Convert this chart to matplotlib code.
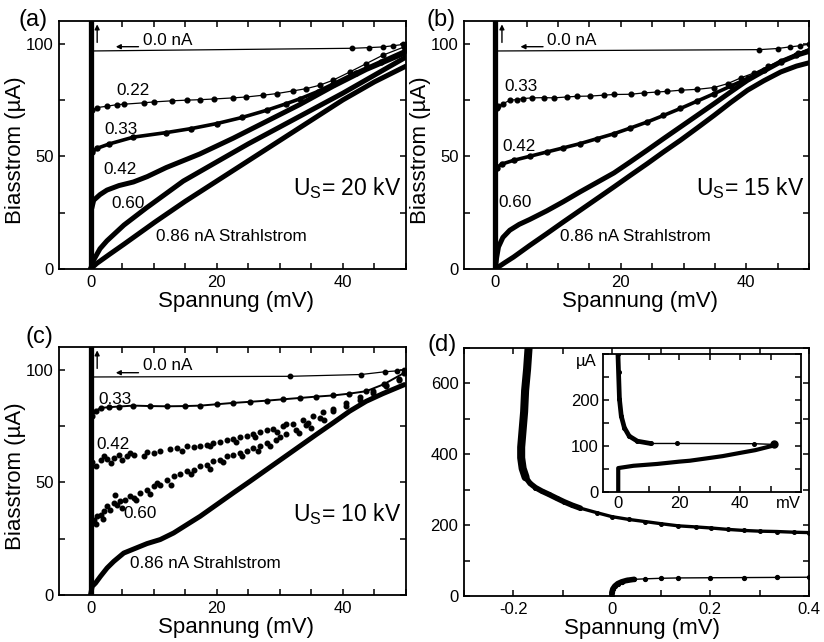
import numpy as np
import matplotlib
matplotlib.use("Agg")
import matplotlib.pyplot as plt
from matplotlib.transforms import blended_transform_factory

plt.rcParams["font.family"] = ["Liberation Sans", "DejaVu Sans"]
plt.rcParams["mathtext.fontset"] = "custom"
plt.rcParams["mathtext.rm"] = "Liberation Sans"
plt.rcParams["mathtext.it"] = "Liberation Sans:italic"

# ---------------------------------------------------------------- data
# superconducting branch at V = 0 (mV, uA)
sc_v = [0, 0]
sc_i = [0, 110]

# (a) U_S = 20 kV
a_00_v = [0, 41.5, 44.2, 46.3, 47.9, 49.5, 50.0]
a_00_i = [96.7, 97.9, 98.2, 98.5, 99.0, 99.6, 99.8]
a_022_v = [0.3, 1.05, 2.6, 4.2, 5.3, 8.4, 10.0, 12.9, 15.3, 17.4, 19.5, 22.6, 24.7,
           27.4, 29.5, 32.1, 34.2, 36.3, 38.4, 41.1, 43.7, 46.3, 49.7]
a_022_i = [70.5, 71.6, 72.2, 72.9, 73.1, 73.7, 74.1, 74.6, 74.9, 75.1, 75.4, 75.9, 76.3,
           77.1, 77.8, 79.0, 80.0, 81.5, 83.7, 87.4, 91.1, 94.8, 98.5]
a_033_v = [0.3, 1.0, 3.0, 6.8, 12.0, 16.0, 20.0, 24.0, 27.9, 31.0, 33.2, 36.0, 38.4, 42.0, 46.0, 50.0]
a_033_i = [52.0, 53.5, 55.5, 58.5, 60.5, 62.3, 64.5, 67.2, 70.4, 73.3, 75.5, 78.7, 82.0, 87.0, 92.0, 97.0]
a_042_v = [0.2, 0.5, 1.5, 2.6, 4.5, 6.8, 9.0, 12.0, 17.3, 22.6, 27.9, 33.2, 38.4, 43.7, 50.0]
a_042_i = [27.0, 30.5, 33.0, 35.0, 37.0, 38.6, 41.0, 45.0, 51.0, 58.0, 65.5, 73.0, 81.0, 88.5, 96.0]
a_060_v = [0, 0.5, 1.5, 2.6, 5.3, 8.8, 14.7, 20.0, 25.0, 30.0, 35.0, 40.0, 45.0, 50.0]
a_060_i = [0, 4.0, 9.0, 12.5, 19.5, 27.0, 39.0, 47.5, 55.5, 63.0, 70.5, 78.0, 86.0, 94.0]
a_086_v = [0, 1.0, 3.0, 5.3, 10.3, 15.0, 20.0, 25.0, 30.0, 35.0, 40.0, 45.0, 50.0]
a_086_i = [0, 2.5, 6.5, 11.0, 21.0, 30.0, 39.0, 48.0, 57.0, 66.0, 75.0, 83.0, 90.0]

# (b) U_S = 15 kV
b_00_v = [0, 42.1, 45.0, 46.9, 48.5, 50.0]
b_00_i = [96.7, 97.3, 97.8, 98.5, 99.0, 99.7]
b_033_v = [0.2, 0.48, 1.28, 2.35, 3.41, 4.48, 5.81, 7.68, 9.28, 11.41, 13.01, 15.15, 17.28,
           18.88, 21.55, 23.68, 25.81, 27.41, 29.55, 32.21, 34.88, 37.01, 39.15, 41.28,
           43.41, 45.55, 48.21, 50.61]
b_033_i = [71.5, 72.2, 73.4, 74.9, 75.1, 75.6, 75.9, 76.0, 75.9, 76.3, 76.6, 76.7, 77.1,
           77.4, 77.5, 78.1, 78.5, 78.8, 79.3, 79.7, 80.5, 82.2, 84.8, 87.0,
           89.9, 92.3, 95.6, 98.5]
b_042_v = [0.2, 1.0, 2.9, 5.5, 8.2, 10.8, 13.5, 16.2, 18.9, 21.5, 24.2, 26.8, 29.5, 32.2,
           34.9, 37.5, 40.2, 42.8, 45.5, 48.0, 50.6]
b_042_i = [45.0, 46.5, 48.2, 50.0, 51.9, 53.7, 55.6, 57.8, 60.0, 62.5, 65.2, 68.1, 71.2, 74.5,
           77.8, 81.1, 84.5, 88.2, 91.9, 95.0, 97.8]
b_060_v = [0, 0.2, 0.5, 1.2, 2.3, 3.8, 5.5, 8.2, 10.8, 13.5, 16.2, 18.9, 21.5, 24.2, 26.8,
           29.5, 32.2, 34.9, 37.5, 40.2, 42.8, 45.5, 48.0, 50.6]
b_060_i = [0, 5.0, 9.8, 14.0, 17.2, 19.8, 22.0, 25.8, 29.8, 34.2, 38.4, 42.6, 47.5, 52.7, 57.8,
           63.0, 68.2, 73.4, 78.5, 83.7, 87.8, 91.9, 94.8, 97.0]
b_086_v = [0, 1.5, 2.9, 5.5, 8.2, 10.8, 13.5, 16.2, 18.9, 21.5, 24.2, 26.8, 29.5, 32.2,
           34.9, 37.5, 40.2, 42.8, 45.5, 48.0, 50.6]
b_086_i = [0, 2.8, 5.3, 10.5, 15.7, 20.8, 26.0, 31.2, 36.4, 41.5, 46.7, 51.9, 57.1, 62.6,
           68.2, 73.8, 79.3, 83.5, 87.4, 90.0, 91.9]

# (c) U_S = 10 kV
c_00_v = [0, 31.6, 42.9, 46.6, 48.5, 49.7]
c_00_i = [96.7, 97.0, 97.8, 99.0, 99.4, 100.0]
c_033_v = [0.2, 0.8, 1.6, 3.0, 4.5, 6.8, 9.5, 12.1, 15.0, 17.4, 20.0, 22.6, 25.3, 27.9,
           30.5, 33.2, 35.8, 38.4, 41.0, 43.7, 46.5, 49.7]
c_033_i = [79.3, 81.5, 83.0, 83.3, 83.6, 84.0, 83.8, 83.7, 83.8, 84.0, 84.6, 85.2, 85.7, 86.2,
           86.8, 87.4, 88.0, 88.5, 89.3, 90.4, 93.5, 98.5]
c_042_v = [0.79, 1.58, 2.11, 2.63, 3.68, 4.47, 5.79, 6.32, 6.84, 8.42, 10.0, 11.05, 12.63,
           13.68, 15.26, 16.32, 17.37, 18.42, 19.47, 20.53, 21.58, 22.63, 23.68, 24.74,
           25.79, 26.84, 27.89, 28.95, 30.53, 32.11, 33.68, 35.26, 36.84, 38.42, 40.53,
           42.63, 44.74, 46.84, 48.95,
           0.3, 3.2, 5.0, 9.0, 14.5, 19.0, 23.0, 26.0, 29.5, 31.0, 34.5]
c_042_i = [57.1, 60.1, 61.5, 60.4, 60.8, 62.3, 61.5, 63.0, 62.3, 61.8, 63.0, 63.8, 64.8,
           65.2, 66.0, 65.7, 66.3, 66.7, 67.5, 67.8, 68.6, 69.4, 70.1, 70.7,
           71.6, 72.2, 73.1, 73.7, 74.9, 76.0, 77.8, 79.3, 81.1, 82.5, 85.2,
           87.9, 90.4, 93.3, 95.9,
           59.0, 58.5, 59.8, 63.5, 63.9, 66.0, 67.8, 70.0, 72.2, 75.8, 76.5]
c_060_v = [0.53, 1.05, 1.58, 2.11, 2.63, 3.16, 3.68, 3.95, 4.21, 4.74, 5.53, 6.32, 6.84,
           7.89, 8.95, 10.0, 10.53, 11.05, 12.11, 13.16, 14.21, 15.26, 16.32, 17.37,
           18.42, 19.47, 20.53, 21.58, 22.63, 23.68, 24.74, 25.79, 26.84, 27.89, 29.47,
           31.05, 32.63, 34.21, 36.32, 38.42, 40.53, 42.63, 44.74, 46.84, 48.95,
           0.8, 2.0, 5.0, 7.2, 9.5, 12.8, 16.0, 18.9, 21.0, 24.0, 26.5, 28.5, 30.0,
           33.0, 35.0, 37.0]
c_060_i = [33.4, 34.9, 35.7, 37.1, 39.3, 37.9, 40.8, 44.5, 40.1, 41.6, 42.3, 43.8, 43.0,
           45.3, 46.7, 48.2, 49.7, 49.0, 51.2, 52.7, 53.8, 54.9, 55.6, 57.1,
           57.8, 59.3, 60.1, 61.5, 62.3, 63.0, 63.8, 65.2, 66.3, 67.5, 68.9,
           71.2, 73.4, 75.6, 78.6, 81.5, 84.0, 86.7, 89.6, 92.6, 95.3,
           31.5, 33.5, 38.8, 42.0, 45.0, 48.8, 53.5, 56.0, 58.8, 61.5, 64.0, 66.0, 70.2,
           72.0, 74.2, 77.5]
c_086_v = [0, 0.26, 0.79, 1.58, 2.63, 3.68, 5.26, 6.84, 8.95, 11.05, 13.16, 15.26, 17.37,
           20.0, 22.63, 25.26, 27.89, 30.53, 33.16, 35.79, 38.42, 41.05, 43.68, 46.32, 49.74]
c_086_i = [0, 3.8, 5.3, 8.3, 12.0, 14.9, 18.6, 20.4, 22.8, 24.6, 27.5, 31.2, 34.9,
           40.1, 45.3, 50.4, 55.6, 60.8, 66.0, 71.2, 76.3, 81.5, 85.9, 89.3, 93.3]

# (d) wide-range IV curve (mV, uA)
d_up_v = [-0.169, -0.172, -0.176, -0.178, -0.181, -0.184, -0.184, -0.181, -0.175, -0.166,
          -0.155, -0.142, -0.128, -0.112, -0.097, -0.080, -0.064, -0.030, 0.0, 0.035,
          0.068, 0.100, 0.135, 0.170, 0.201, 0.235, 0.268, 0.300, 0.335, 0.370, 0.400]
d_up_i = [700, 640, 580, 520, 470, 420, 390, 360, 335, 318,
          306, 296, 287, 276, 266, 256, 248, 235, 224, 216,
          210, 204, 198, 195, 192, 188, 185, 183, 182, 180, 179]
d_lo_v = [0.0, 0.0, 0.002, 0.006, 0.012, 0.020, 0.030, 0.045, 0.068, 0.100, 0.135,
          0.200, 0.268, 0.335, 0.400]
d_lo_i = [0, 10, 20, 28, 35, 40, 44, 47, 48.5, 50, 51, 51.5, 52, 52.5, 53]

# (d) inset
ins_up_v = [-0.1, 0.1, 0.4, 1.0, 2.0, 3.6, 6.3, 10.6, 19.2, 44.5, 51.0]
ins_up_i = [301, 261, 202, 165, 140, 121.5, 110.5, 105.5, 105.5, 105.0, 103.5]
ins_lo_v = [0, 0, 1.5, 5.0, 12.8, 20.0, 23.5, 30.0, 34.3, 40.0, 45.0, 51.0]
ins_lo_i = [0, 52, 53.5, 57, 61, 66, 68, 74, 78, 85, 91, 101]

beam_labels = ["0.0 nA", "0.22", "0.33", "0.42", "0.60", "0.86 nA Strahlstrom"]

# ---------------------------------------------------------------- figure
W, H = 824, 642
fig = plt.figure(figsize=(W / 100, H / 100), dpi=100)


def px_axes(l, t, r, b):
    return fig.add_axes([l / W, 1 - b / H, (r - l) / W, (b - t) / H])


TICK_FS = 12
LABEL_FS = 16
ANN_FS = 12.3


def style_axes(ax):
    for s in ax.spines.values():
        s.set_linewidth(1.3)
    ax.tick_params(direction="in", top=True, right=True, length=4, width=1.1,
                   labelsize=TICK_FS, pad=4)


def iv_axes(ax, kv):
    ax.set_xlim(-5, 50)
    ax.set_ylim(0, 110)
    xt = np.arange(0, 51, 5)
    ax.set_xticks(xt)
    ax.set_xticklabels([str(int(v)) if v % 20 == 0 else "" for v in xt])
    yt = [0, 25, 50, 75, 100]
    ax.set_yticks(yt)
    ax.set_yticklabels([str(v) if v % 50 == 0 else "" for v in yt])
    style_axes(ax)
    ax.set_xlabel("Spannung (mV)", fontsize=LABEL_FS)
    ax.xaxis.label.set_va("center")
    ax.xaxis.set_label_coords(0.51, -0.132)
    ax.set_ylabel("Biasstrom (\u00b5A)", fontsize=LABEL_FS)
    ax.yaxis.label.set_va("center")
    ax.yaxis.set_label_coords(-0.125, 0.48)
    ax.text(49.3, 35.8, "U$_\\mathrm{S}$= %s kV" % kv, fontsize=16.5,
            ha="right", va="center")


def arrows(ax):
    ax.annotate("", xy=(4.0, 98.6), xytext=(7.6, 98.6),
                arrowprops=dict(arrowstyle="-|>", lw=1.0, color="k",
                                mutation_scale=7, shrinkA=0, shrinkB=0))
    ax.annotate("", xy=(1.05, 108.5), xytext=(1.05, 100.5),
                arrowprops=dict(arrowstyle="-|>", lw=1.0, color="k",
                                mutation_scale=7, shrinkA=0, shrinkB=0))


def thick(ax, v, i, lw=3.6):
    ax.plot(v, i, color="k", lw=lw, solid_capstyle="round", solid_joinstyle="round")


def dotted(ax, v, i, lw=0.9, ms=3.4):
    ax.plot(v, i, color="k", lw=lw, marker="o", ms=ms, mec="k", mfc="k")


def zero_line(ax, v, i):
    ax.plot(v, i, color="k", lw=0.9, marker="o", ms=3.2, markevery=slice(1, None))


# (a)
ax_a = px_axes(59, 21, 406, 269)
iv_axes(ax_a, "20")
thick(ax_a, sc_v, sc_i, lw=3.8)
zero_line(ax_a, a_00_v, a_00_i)
dotted(ax_a, a_022_v, a_022_i)
dotted(ax_a, a_033_v, a_033_i, lw=2.6, ms=3.6)
thick(ax_a, a_042_v, a_042_i)
thick(ax_a, a_060_v, a_060_i)
thick(ax_a, a_086_v, a_086_i)
arrows(ax_a)
ax_a.text(8.3, 101.5, beam_labels[0], fontsize=ANN_FS, va="center")
ax_a.text(6.7, 79.0, beam_labels[1], fontsize=ANN_FS, ha="center", va="center")
ax_a.text(4.9, 62.0, beam_labels[2], fontsize=ANN_FS, ha="center", va="center")
ax_a.text(4.6, 44.0, beam_labels[3], fontsize=ANN_FS, ha="center", va="center")
ax_a.text(5.9, 29.0, beam_labels[4], fontsize=ANN_FS, ha="center", va="center")
ax_a.text(10.3, 14.6, beam_labels[5], fontsize=ANN_FS, va="center")

# (b)
ax_b = px_axes(464, 21, 809, 269)
iv_axes(ax_b, "15")
thick(ax_b, sc_v, sc_i, lw=3.8)
zero_line(ax_b, b_00_v, b_00_i)
dotted(ax_b, b_033_v, b_033_i)
dotted(ax_b, b_042_v, b_042_i, lw=2.6, ms=3.6)
thick(ax_b, b_060_v, b_060_i)
thick(ax_b, b_086_v, b_086_i)
arrows(ax_b)
ax_b.text(8.2, 101.5, beam_labels[0], fontsize=ANN_FS, va="center")
ax_b.text(4.1, 81.0, beam_labels[2], fontsize=ANN_FS, ha="center", va="center")
ax_b.text(3.7, 54.5, beam_labels[3], fontsize=ANN_FS, ha="center", va="center")
ax_b.text(3.1, 29.7, beam_labels[4], fontsize=ANN_FS, ha="center", va="center")
ax_b.text(10.3, 14.6, beam_labels[5], fontsize=ANN_FS, va="center")

# (c)
ax_c = px_axes(59, 347, 406, 595)
iv_axes(ax_c, "10")
thick(ax_c, sc_v, sc_i, lw=3.8)
zero_line(ax_c, c_00_v, c_00_i)
dotted(ax_c, c_033_v, c_033_i, lw=1.4)
ax_c.plot(c_042_v, c_042_i, "o", color="k", ms=3.3, lw=0)
ax_c.plot(c_060_v, c_060_i, "o", color="k", ms=3.3, lw=0)
thick(ax_c, c_086_v, c_086_i)
arrows(ax_c)
ax_c.text(8.3, 101.9, beam_labels[0], fontsize=ANN_FS, va="center")
ax_c.text(3.8, 86.6, beam_labels[2], fontsize=ANN_FS, ha="center", va="center")
ax_c.text(3.55, 66.7, beam_labels[3], fontsize=ANN_FS, ha="center", va="center")
ax_c.text(7.9, 36.0, beam_labels[4], fontsize=ANN_FS, ha="center", va="center")
ax_c.text(6.3, 13.8, beam_labels[5], fontsize=ANN_FS, va="center")

# (d)
ax_d = px_axes(464, 348, 809, 596)
ax_d.set_xlim(-0.3, 0.4)
ax_d.set_ylim(0, 700)
dxt = np.round(np.arange(-0.3, 0.41, 0.1), 1)
ax_d.set_xticks(dxt)
ax_d.set_xticklabels([{-0.2: "-0.2", 0.0: "0", 0.2: "0.2", 0.4: "0.4"}.get(v, "") for v in dxt])
dyt = np.arange(0, 701, 100)
ax_d.set_yticks(dyt)
ax_d.set_yticklabels([str(v) if v % 200 == 0 else "" for v in dyt])
style_axes(ax_d)
ax_d.set_xlabel("Spannung (mV)", fontsize=LABEL_FS)
ax_d.xaxis.label.set_va("center")
ax_d.xaxis.set_label_coords(0.516, -0.13)

up_v = np.array(d_up_v)
up_i = np.array(d_up_i)
m_hi = up_i >= 330
m_mid = (up_i >= 240) & (up_i <= 340)
ax_d.plot(up_v, up_i, color="k", lw=2.4, marker="o", ms=2.6, solid_capstyle="round")
ax_d.plot(up_v[m_mid], up_i[m_mid], color="k", lw=4.0, solid_capstyle="round")
ax_d.plot(up_v[m_hi], up_i[m_hi], color="k", lw=5.8, solid_capstyle="round")
lo_v = np.array(d_lo_v)
lo_i = np.array(d_lo_i)
ax_d.plot(lo_v, lo_i, color="k", lw=1.0, marker="o", ms=2.8)
m_lo = lo_v <= 0.05
ax_d.plot(lo_v[m_lo], lo_i[m_lo], color="k", lw=4.0, solid_capstyle="round")

# inset of (d)
ax_in = px_axes(603, 354, 801, 492)
ax_in.set_xlim(-5, 60)
ax_in.set_ylim(0, 300)
ixt = np.arange(0, 51, 10)
ax_in.set_xticks(ixt)
ax_in.set_xticklabels([str(v) if v % 20 == 0 else "" for v in ixt])
iyt = np.arange(0, 301, 50)
ax_in.set_yticks(iyt)
ax_in.set_yticklabels([str(v) if v in (0, 100, 200) else "" for v in iyt])
style_axes(ax_in)
ax_in.tick_params(pad=3)
iu_v = np.array(ins_up_v)
iu_i = np.array(ins_up_i)
ax_in.plot(iu_v, iu_i, color="k", lw=1.0, marker="o", ms=2.6)
m_iu = iu_v <= 10.6
ax_in.plot(iu_v[m_iu], iu_i[m_iu], color="k", lw=3.4, solid_capstyle="round")
ax_in.plot(iu_v[-1], iu_i[-1], "o", color="k", ms=5)
thick(ax_in, ins_lo_v, ins_lo_i, lw=3.0)
ax_in.annotate("mV", xy=(56, 0), xycoords=blended_transform_factory(ax_in.transData, ax_in.transAxes),
               xytext=(0, -3), textcoords="offset points", ha="center", va="top",
               fontsize=TICK_FS)
ax_in.text(-0.03, 283, "\u00b5A", fontsize=TICK_FS, ha="right", va="center",
           transform=blended_transform_factory(ax_in.transAxes, ax_in.transData))

# panel letters
for lab, (x, y) in zip(["(a)", "(b)", "(c)", "(d)"],
                       [(33, 20), (441, 20), (39, 337), (442, 345)]):
    fig.text(x / W, 1 - y / H, lab, fontsize=17, ha="center", va="center")

fig.savefig("out.png", dpi=100)
